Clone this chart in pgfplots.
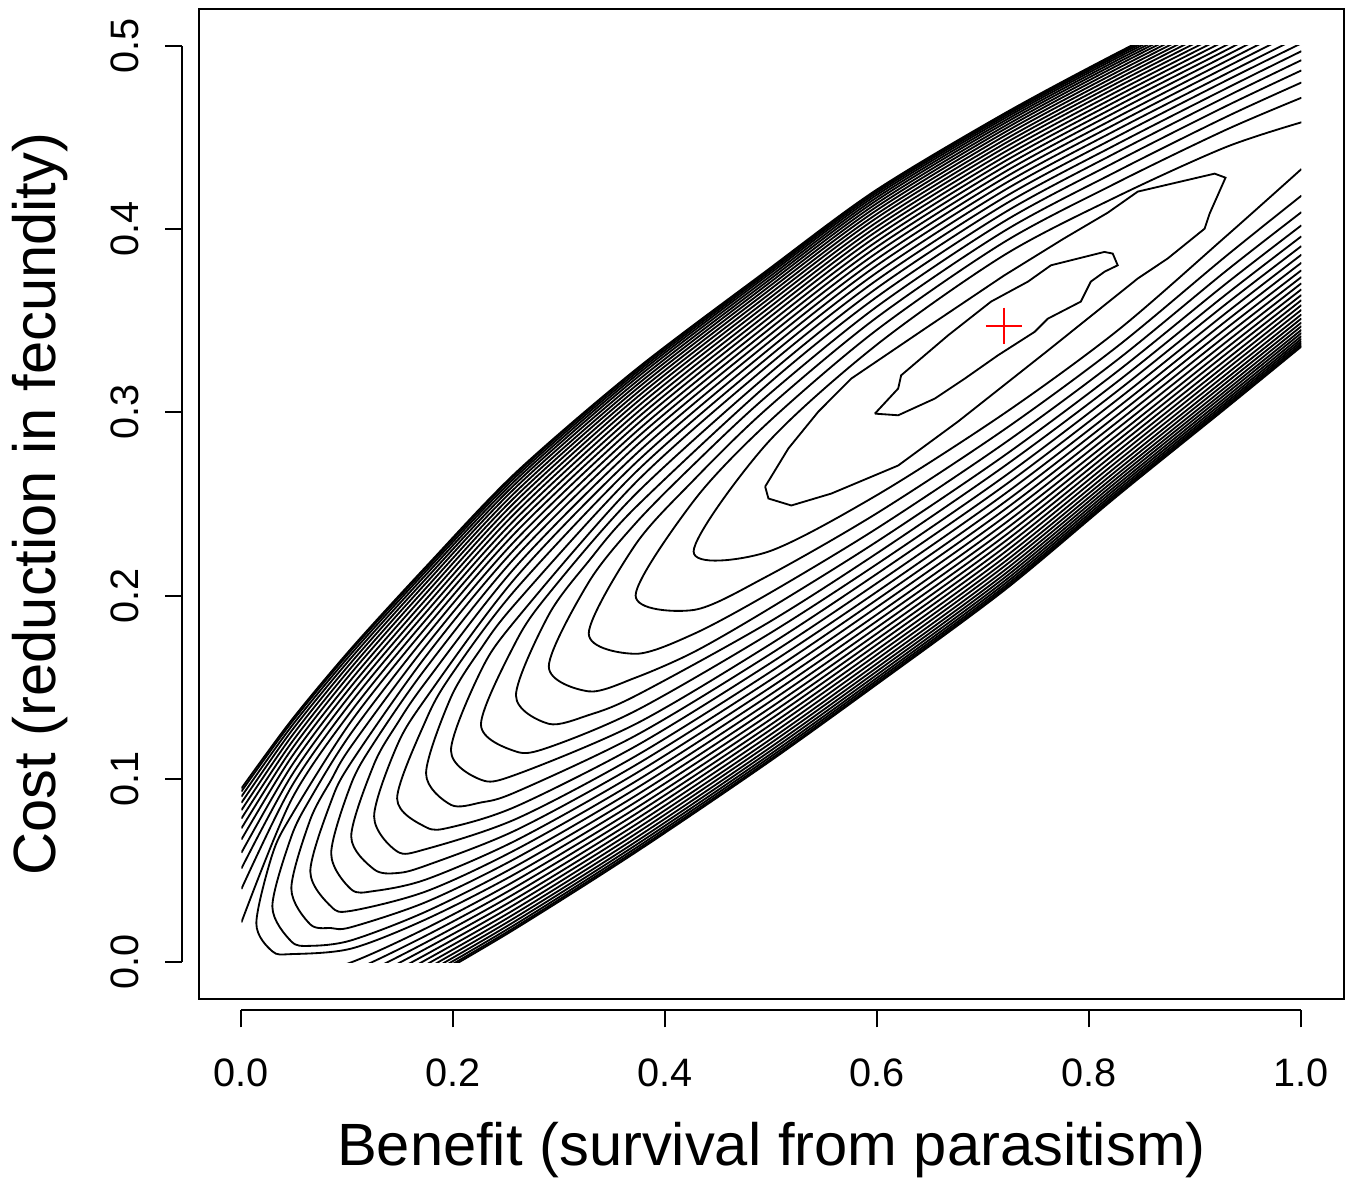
\documentclass[border=0pt]{standalone}
\usepackage{fontspec}
\setmainfont{Liberation Sans}
\usepackage{pgfplots}
\pgfplotsset{compat=1.18}
\pgfplotsset{cl/.style={black, line width=0.55pt, smooth, mark=none},
  cp/.style={black, line width=0.55pt, sharp plot, mark=none}}
\begin{document}
\begin{tikzpicture}
\useasboundingbox (-59.7pt,-54pt) rectangle (345.9pt,299.7pt);
\begin{axis}[at={(0pt,0pt)}, anchor=south west, scale only axis,
  width=343.44pt, height=297pt,
  xmin=-0.04, xmax=1.04, ymin=-0.02, ymax=0.52,
  xtick=\empty, ytick=\empty,
  axis line style={line width=0.6pt},
  xlabel={Benefit (survival from parasitism)},
  ylabel={Cost (reduction in fecundity)},
  label style={font=\fontsize{17.9}{21}\selectfont},
  xlabel style={at={(axis description cs:0.5,-0.1524)}, anchor=center},
  ylabel style={at={(axis description cs:-0.1389,0.5)}, anchor=center}]
\end{axis}
\begin{axis}[at={(12.72pt,11pt)}, anchor=south west, scale only axis,
  width=318pt, height=275pt,
  xmin=0, xmax=1, ymin=0, ymax=0.5,
  axis x line=bottom, axis y line=left,
  axis line style={-, line width=0.6pt},
  axis x line shift=14.4pt, axis y line shift=17.7pt,
  tick align=outside, major tick length=5.1pt,
  tick style={line width=0.6pt, black},
  xtick={0,0.2,0.4,0.6,0.8,1}, ytick={0,0.1,0.2,0.3,0.4,0.5},
  /pgf/number format/assume math mode=true,
  xticklabel style={/pgf/number format/fixed, /pgf/number format/fixed zerofill, /pgf/number format/precision=1, font=\fontsize{11.9}{14}\selectfont, yshift=-6pt},
  yticklabel style={/pgf/number format/fixed, /pgf/number format/fixed zerofill, /pgf/number format/precision=1, font=\fontsize{11.9}{14}\selectfont, rotate=90, anchor=south, yshift=4.5pt}]
% innermost contours
\addplot[cp] coordinates {(0.5976,0.2993) (0.6196,0.2984) (0.6541,0.3075) (0.6824,0.3184) (0.7137,0.3311) (0.7483,0.3439) (0.7608,0.3511) (0.7919,0.3604) (0.8013,0.3713) (0.8145,0.3768) (0.8267,0.3802) (0.8220,0.3866) (0.8142,0.3875) (0.7637,0.3802) (0.7420,0.3713) (0.7072,0.3604) (0.6667,0.3420) (0.6224,0.3202) (0.6196,0.3130) (0.5976,0.2993)};
\addplot[cp] coordinates {(0.4941,0.2595) (0.4972,0.2530) (0.5188,0.2492) (0.5565,0.2557) (0.6196,0.2710) (0.6761,0.2950) (0.7608,0.3337) (0.8456,0.3730) (0.8738,0.3839) (0.9087,0.4002) (0.9134,0.4084) (0.9284,0.4280) (0.9181,0.4302) (0.8456,0.4204) (0.8173,0.4089) (0.7759,0.3948) (0.7194,0.3746) (0.6478,0.3468) (0.5753,0.3184) (0.5443,0.3004) (0.5160,0.2803) (0.4941,0.2595)};
% contours wrapping the lower-left tip
\addplot[cl] coordinates {(1,.4582) (.9284,.4446) (.8267,.4179) (.7194,.3857) (.5979,.3362) (.4944,.2821) (.4266,.2241) (.4944,.2235) (.5979,.2543) (.7194,.2993) (.8267,.3447) (.9284,.3958) (1,.4327)};
\addplot[cl] coordinates {(1,.4716) (.9284,.4540) (.8267,.4255) (.7194,.3928) (.5979,.3443) (.4944,.2931) (.4266,.2516) (.3719,.2001) (.4266,.1922) (.4944,.2101) (.5979,.2444) (.7194,.2905) (.8267,.3361) (.9284,.3850) (1,.4182)};
\addplot[cl] coordinates {(1,.4799) (.9284,.4610) (.8267,.4317) (.7194,.3988) (.5979,.3511) (.4944,.3013) (.4266,.2630) (.3719,.2280) (.3277,.1794) (.3719,.1683) (.4266,.1791) (.4944,.2001) (.5979,.2361) (.7194,.2830) (.8267,.3288) (.9284,.3769) (1,.4092)};
\addplot[cl] coordinates {(1,.4865) (.9284,.4669) (.8267,.4372) (.7194,.4041) (.5979,.3570) (.4944,.3082) (.4266,.2715) (.3719,.2395) (.3277,.2074) (.2900,.1614) (.3277,.1478) (.3719,.1553) (.4266,.1692) (.4944,.1917) (.5979,.2289) (.7194,.2763) (.8267,.3225) (.9284,.3700) (1,.4020)};
\addplot[cl] coordinates {(1,.4921) (.9284,.4720) (.8267,.4421) (.7194,.4088) (.5979,.3623) (.4944,.3142) (.3719,.2482) (.3277,.2189) (.2900,.1896) (.2590,.1456) (.2900,.1301) (.3277,.1349) (.3719,.1454) (.4944,.1844) (.5979,.2225) (.7194,.2705) (.8267,.3169) (.9284,.3641) (1,.3960)};
\addplot[cl] coordinates {(1,.4970) (.9284,.4765) (.8267,.4465) (.7194,.4132) (.5979,.3671) (.4944,.3194) (.3719,.2554) (.2900,.2011) (.2590,.1749) (.2260,.1298) (.2590,.1150) (.2900,.1173) (.3719,.1372) (.4944,.1780) (.5979,.2166) (.7194,.2649) (.8267,.3118) (.9284,.3589) (1,.3907)};
\addplot[cl] coordinates {(1,.5013) (.9284,.4808) (.8267,.4506) (.7194,.4172) (.5979,.3715) (.4944,.3244) (.3719,.2617) (.2590,.1869) (.2260,.1591) (.1977,.1156) (.2260,.0996) (.2590,.1024) (.3719,.1300) (.4944,.1719) (.5979,.2113) (.7194,.2599) (.8267,.3071) (.9284,.3540) (1,.3860)};
\addplot[cl] coordinates {(1,.5053) (.9284,.4845) (.8267,.4544) (.7194,.4210) (.5979,.3756) (.4944,.3288) (.3719,.2673) (.2590,.1960) (.2260,.1711) (.1977,.1446) (.1742,.1031) (.1977,.0859) (.2260,.0872) (.2590,.0929) (.3719,.1237) (.4944,.1665) (.5979,.2062) (.7194,.2552) (.8267,.3027) (.9284,.3496) (1,.3816)};
\addplot[cl] coordinates {(1,.5091) (.9284,.4881) (.8267,.4579) (.7194,.4245) (.5979,.3795) (.4944,.3329) (.3719,.2724) (.2590,.2036) (.1977,.1565) (.1742,.1323) (.1469,.0894) (.1742,.0737) (.1977,.0737) (.2590,.0850) (.3719,.1179) (.4944,.1615) (.5979,.2015) (.7194,.2508) (.8267,.2987) (.9284,.3455) (1,.3775)};
\addplot[cl] coordinates {(1,.5125) (.9284,.4914) (.8267,.4612) (.7194,.4278) (.5979,.3830) (.4944,.3368) (.3719,.2771) (.2590,.2100) (.1742,.1442) (.1469,.1183) (.1252,.0796) (.1469,.0605) (.1742,.0618) (.2590,.0782) (.3719,.1125) (.4944,.1567) (.5979,.1972) (.7194,.2467) (.8267,.2949) (.9284,.3417) (1,.3738)};
\addplot[cl] coordinates {(1,.5156) (.9284,.4945) (.8267,.4644) (.7194,.4309) (.5979,.3864) (.4944,.3404) (.3719,.2815) (.2590,.2159) (.1742,.1531) (.1469,.1301) (.1252,.1082) (.1036,.0687) (.1252,.0507) (.1469,.0487) (.1742,.0528) (.2590,.0721) (.3719,.1076) (.4944,.1523) (.5979,.1931) (.7194,.2428) (.8267,.2913) (.9284,.3381) (1,.3704)};
\addplot[cl] coordinates {(1,.5187) (.9284,.4974) (.8267,.4673) (.7194,.4339) (.5979,.3896) (.4944,.3438) (.3719,.2855) (.2590,.2213) (.1742,.1606) (.1252,.1199) (.1036,.0974) (.0847,.0594) (.1036,.0398) (.1252,.0389) (.1742,.0452) (.2590,.0665) (.3719,.1030) (.4944,.1482) (.5979,.1891) (.7194,.2391) (.8267,.2878) (.9284,.3347) (1,.3671)};
\addplot[cl] coordinates {(1,.5215) (.9284,.5001) (.8267,.4701) (.7194,.4367) (.5979,.3926) (.4944,.3470) (.3719,.2892) (.2590,.2261) (.1742,.1671) (.1036,.1091) (.0847,.0879) (.0650,.0496) (.0847,.0304) (.1036,.0281) (.1742,.0387) (.2590,.0615) (.3719,.0987) (.4944,.1443) (.5979,.1855) (.7194,.2356) (.8267,.2847) (.9284,.3316) (1,.3640)};
\addplot[cl] coordinates {(.9284,.5028) (.8267,.4727) (.7194,.4393) (.5979,.3955) (.4944,.3501) (.3719,.2928) (.2590,.2305) (.1742,.1728) (.1036,.1179) (.0847,.0995) (.0650,.0779) (.0471,.0403) (.0650,.0207) (.0847,.0187) (.1036,.0192) (.1742,.0329) (.2590,.0568) (.3719,.0947) (.4944,.1406) (.5979,.1820) (.7194,.2323) (.8267,.2817) (.9284,.3285) (1,.3612)};
\addplot[cl] coordinates {(.9284,.5052) (.8267,.4752) (.7194,.4418) (.5979,.3982) (.4944,.3529) (.3719,.2961) (.2590,.2347) (.1742,.1780) (.1036,.1251) (.0650,.0893) (.0471,.0686) (.0292,.0305) (.0471,.0114) (.0650,.0090) (.1036,.0120) (.1742,.0277) (.2590,.0525) (.3719,.0909) (.4944,.1371) (.5979,.1787) (.7194,.2292) (.8267,.2788) (.9284,.3257) (1,.3585)};
\addplot[cl] coordinates {(.9284,.5075) (.8267,.4776) (.7194,.4442) (.5979,.4007) (.4944,.3556) (.3719,.2992) (.2590,.2385) (.1742,.1827) (.1036,.1315) (.0471,.0800) (.0292,.0589) (.0141,.0213) (.0292,.0060) (.0471,.0045) (.1036,.0075) (.1742,.0235) (.2590,.0485) (.3719,.0874) (.4944,.1338) (.5979,.1756) (.7194,.2262) (.8267,.2761) (.9284,.3231) (1,.3559)};
% outer contours: upper pieces
\addplot[cl] coordinates {(0,.0218) (.0471,.0886) (.1036,.1370) (.1742,.1870) (.2590,.2421) (.3719,.3022) (.4944,.3582) (.5979,.4031) (.7194,.4464) (.8267,.4798) (.9284,.5097)};
\addplot[cl] coordinates {(0,.0400) (.0471,.0957) (.1036,.1420) (.1742,.1910) (.2590,.2455) (.3719,.3050) (.4944,.3606) (.5979,.4055) (.7194,.4485) (.8267,.4819) (.9284,.5118)};
\addplot[cl] coordinates {(0,.0512) (.0471,.1017) (.1036,.1465) (.1742,.1947) (.2590,.2486) (.3719,.3076) (.4944,.3629) (.5979,.4076) (.7194,.4506) (.8267,.4839) (.9284,.5137)};
\addplot[cl] coordinates {(0,.0598) (.0471,.1070) (.1036,.1506) (.1742,.1981) (.2590,.2516) (.3719,.3100) (.4944,.3651) (.5979,.4097) (.7194,.4525) (.8267,.4858) (.9284,.5156)};
\addplot[cl] coordinates {(0,.0670) (.0471,.1118) (.1036,.1543) (.1742,.2013) (.2590,.2543) (.3719,.3123) (.4944,.3671) (.5979,.4116) (.7194,.4543) (.8267,.4876) (.9284,.5173)};
\addplot[cl] coordinates {(0,.0731) (.0471,.1160) (.1036,.1578) (.1742,.2042) (.2590,.2568) (.3719,.3144) (.4944,.3690) (.5979,.4134) (.7194,.4559) (.8267,.4893) (.9284,.5189)};
\addplot[cl] coordinates {(0,.0784) (.0471,.1197) (.1036,.1608) (.1742,.2069) (.2590,.2592) (.3719,.3164) (.4944,.3707) (.5979,.4151) (.7194,.4575) (.8267,.4908) (.9284,.5204)};
\addplot[cl] coordinates {(0,.0830) (.0471,.1231) (.1036,.1636) (.1742,.2093) (.2590,.2613) (.3719,.3183) (.4944,.3723) (.5979,.4166) (.7194,.4589) (.8267,.4922) (.9284,.5218)};
\addplot[cl] coordinates {(0,.0870) (.0471,.1261) (.1036,.1661) (.1742,.2115) (.2590,.2632) (.3719,.3199) (.4944,.3738) (.5979,.4180) (.7194,.4602) (.8267,.4935) (.9284,.5230)};
\addplot[cl] coordinates {(0,.0904) (.0471,.1286) (.1036,.1683) (.1742,.2134) (.2590,.2649) (.3719,.3213) (.4944,.3750) (.5979,.4192) (.7194,.4613) (.8267,.4946) (.9284,.5241)};
\addplot[cl] coordinates {(0,.0932) (.0471,.1307) (.1036,.1701) (.1742,.2149) (.2590,.2663) (.3719,.3225) (.4944,.3760) (.5979,.4202) (.7194,.4622) (.8267,.4955) (.9284,.5249)};
\addplot[cl] coordinates {(0,.0949) (.0471,.1320) (.1036,.1712) (.1742,.2159) (.2590,.2672) (.3719,.3233) (.4944,.3768) (.5979,.4209) (.7194,.4629) (.8267,.4962) (.9284,.5256)};
% outer contours: lower pieces
\addplot[cl] coordinates {(.0471,-.0090) (.1036,.0000) (.1742,.0186) (.2590,.0447) (.3719,.0840) (.4944,.1307) (.5979,.1727) (.7194,.2234) (.8267,.2735) (.9284,.3205) (1,.3534)};
\addplot[cl] coordinates {(.0471,-.0163) (.1036,-.0050) (.1742,.0146) (.2590,.0412) (.3719,.0809) (.4944,.1277) (.5979,.1698) (.7194,.2207) (.8267,.2710) (.9284,.3181) (1,.3512)};
\addplot[cl] coordinates {(.0471,-.0225) (.1036,-.0095) (.1742,.0109) (.2590,.0379) (.3719,.0779) (.4944,.1250) (.5979,.1672) (.7194,.2182) (.8267,.2687) (.9284,.3159) (1,.3490)};
\addplot[cl] coordinates {(.0471,-.0279) (.1036,-.0137) (.1742,.0075) (.2590,.0348) (.3719,.0751) (.4944,.1223) (.5979,.1647) (.7194,.2159) (.8267,.2665) (.9284,.3137) (1,.3470)};
\addplot[cl] coordinates {(.0471,-.0327) (.1036,-.0174) (.1742,.0043) (.2590,.0320) (.3719,.0725) (.4944,.1198) (.5979,.1623) (.7194,.2136) (.8267,.2645) (.9284,.3117) (1,.3450)};
\addplot[cl] coordinates {(.1036,-.0209) (.1742,.0014) (.2590,.0293) (.3719,.0701) (.4944,.1176) (.5979,.1601) (.7194,.2115) (.8267,.2626) (.9284,.3099) (1,.3433)};
\addplot[cl] coordinates {(.1036,-.0240) (.1742,-.0013) (.2590,.0269) (.3719,.0678) (.4944,.1154) (.5979,.1581) (.7194,.2096) (.8267,.2608) (.9284,.3081) (1,.3416)};
\addplot[cl] coordinates {(.1036,-.0268) (.1742,-.0037) (.2590,.0247) (.3719,.0657) (.4944,.1135) (.5979,.1562) (.7194,.2078) (.8267,.2592) (.9284,.3065) (1,.3401)};
\addplot[cl] coordinates {(.1036,-.0293) (.1742,-.0059) (.2590,.0227) (.3719,.0639) (.4944,.1117) (.5979,.1545) (.7194,.2062) (.8267,.2577) (.9284,.3051) (1,.3388)};
\addplot[cl] coordinates {(.1036,-.0315) (.1742,-.0078) (.2590,.0209) (.3719,.0623) (.4944,.1102) (.5979,.1531) (.7194,.2048) (.8267,.2564) (.9284,.3039) (1,.3376)};
\addplot[cl] coordinates {(.1036,-.0333) (.1742,-.0094) (.2590,.0195) (.3719,.0610) (.4944,.1089) (.5979,.1519) (.7194,.2037) (.8267,.2554) (.9284,.3029) (1,.3366)};
\addplot[cl] coordinates {(.1036,-.0344) (.1742,-.0104) (.2590,.0185) (.3719,.0600) (.4944,.1080) (.5979,.1510) (.7194,.2028) (.8267,.2546) (.9284,.3021) (1,.3359)};
% maximum
\addplot[red, only marks, mark=+, mark size=5.4pt, mark options={line width=0.6pt}] coordinates {(0.7194,0.3473)};
\end{axis}
\end{tikzpicture}
\end{document}
